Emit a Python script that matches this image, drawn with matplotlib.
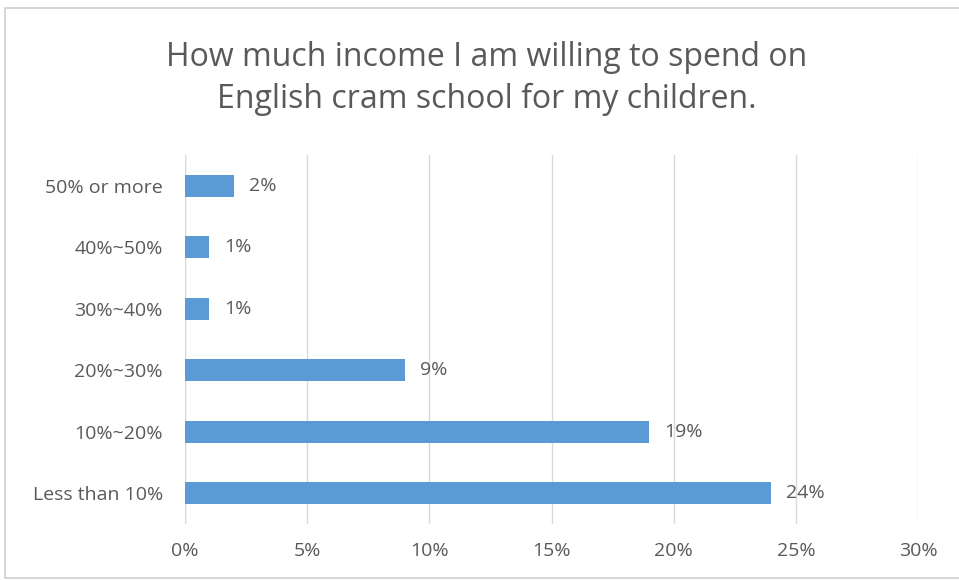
import matplotlib.pyplot as plt
from matplotlib.patches import Rectangle

# Share of income parents would spend on English cram school
categories = ["Less than 10%", "10%~20%", "20%~30%", "30%~40%", "40%~50%", "50% or more"]
shares = [24, 19, 9, 1, 1, 2]  # percent
x_ticks = [0, 5, 10, 15, 20, 25, 30]

TEXT = "#595959"
BAR = "#5B9BD5"
GRID = "#D9D9D9"

plt.rcParams["font.family"] = ["Open Sans", "DejaVu Sans"]

fig = plt.figure(figsize=(9.59, 5.80), dpi=100)

# chart frame
fig.patches.append(
    Rectangle((5 / 959, 2 / 580), 1.0, 570 / 580, transform=fig.transFigure,
              facecolor="white", edgecolor="#D0D0D0", linewidth=1.2, zorder=-1)
)

ax = fig.add_axes([185 / 959, 1 - 524 / 580, (918 - 185) / 959, (524 - 155) / 580])
ax.set_zorder(2)
ax.set_facecolor("none")

y = range(len(categories))
ax.barh(y, shares, height=0.36, color=BAR, zorder=3)
for yi, v in zip(y, shares):
    ax.text(v + 0.6, yi, f"{v}%", va="center", ha="left", fontsize=14, color=TEXT)

ax.set_xlim(0, 30)
ax.set_ylim(-0.5, len(categories) - 0.5)
ax.set_xticks(x_ticks)
ax.set_xticklabels([f"{t}%" for t in x_ticks], fontsize=14, color=TEXT)
ax.set_yticks(list(y))
ax.set_yticklabels(categories, fontsize=14, color=TEXT)
ax.tick_params(axis="both", length=0)
ax.tick_params(axis="x", pad=13)
ax.tick_params(axis="y", pad=16)
ax.grid(axis="x", color=GRID, linewidth=1, zorder=0)
for s in ax.spines.values():
    s.set_visible(False)
ax.axvline(0, color=GRID, linewidth=1, zorder=2)

fig.text(487 / 959, 1 - 57 / 580, "How much income I am willing to spend on",
         ha="center", va="center", fontsize=23, color=TEXT)
fig.text(487 / 959, 1 - 99 / 580, "English cram school for my children.",
         ha="center", va="center", fontsize=23, color=TEXT)

fig.savefig("out.png", dpi=100)
